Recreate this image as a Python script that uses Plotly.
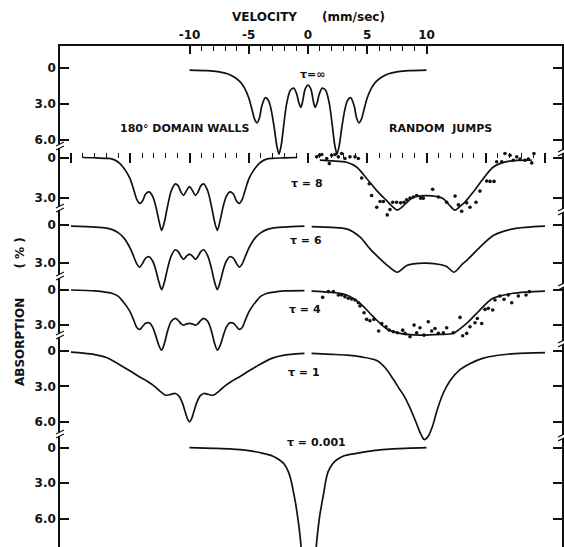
import plotly.graph_objects as go

# ------------------------------------------------------------------ data
# top velocity axis (mm/sec)
vel_major = [-10, -5, 0, 5, 10]
vel_major_text = ["-10", "-5", "0", "5", "10"]
vel_minor = list(range(-10, 11))
# tick row drawn across the tau = 8 baseline
row_major = [-20, -15, -10, -5, 0, 5, 10, 15, 20]
row_minor = list(range(-20, 21))

# tau = infinity (centred at 0 mm/sec)
inf_v = [-10, -8.5, -7.5, -6.8, -6.2, -5.7, -5.3, -5.0, -4.75, -4.5, -4.3, -4.1, -3.9, -3.6, -3.3,
         -3.05, -2.85, -2.65, -2.45, -2.25, -2.05, -1.8, -1.5, -1.2, -0.95, -0.75, -0.6, -0.45,
         -0.25, 0, 0.25, 0.45, 0.6, 0.75, 0.95, 1.2, 1.5, 1.8, 2.05, 2.25, 2.45, 2.65, 2.85, 3.05,
         3.3, 3.6, 3.9, 4.1, 4.3, 4.5, 4.75, 5.0, 5.3, 5.7, 6.2, 6.8, 7.5, 8.5, 10]
inf_a = [0.2, 0.25, 0.35, 0.5, 0.8, 1.2, 1.8, 2.5, 3.4, 4.3, 4.6, 4.2, 3.2, 2.5, 2.8,
         3.8, 5.0, 6.4, 7.2, 6.4, 4.8, 3.0, 1.9, 1.7, 2.2, 3.0, 3.3, 2.8,
         1.8, 1.45, 1.8, 2.8, 3.3, 3.0, 2.2, 1.7, 1.9, 3.0, 4.8, 6.4, 7.2, 6.4, 5.0, 3.8,
         2.8, 2.5, 3.2, 4.2, 4.6, 4.3, 3.4, 2.5, 1.8, 1.2, 0.8, 0.5, 0.35, 0.25, 0.2]

# 180 deg domain walls (velocity relative to the spectrum centre)
dw_u = [-10, -8, -7, -6.5, -6, -5.6, -5.3, -5.0, -4.7, -4.45, -4.2, -3.95, -3.7, -3.4, -3.1,
        -2.85, -2.6, -2.35, -2.1, -1.85, -1.55, -1.2, -0.95, -0.7, -0.5, -0.25, 0,
        0.25, 0.5, 0.7, 0.95, 1.2, 1.55, 1.85, 2.1, 2.35, 2.6, 2.85, 3.1, 3.4, 3.7, 3.95,
        4.2, 4.45, 4.7, 5.0, 5.3, 5.6, 6, 6.5, 7, 8, 9.7]
dw8_u = [-9.0, -8, -7, -6.5, -6, -5.6, -5.3, -5.0, -4.7, -4.45, -4.2, -3.95, -3.7, -3.4, -3.1,
         -2.85, -2.6, -2.35, -2.1, -1.85, -1.55, -1.2, -0.95, -0.7, -0.5, -0.25, 0,
         0.25, 0.5, 0.7, 0.95, 1.2, 1.55, 1.85, 2.1, 2.35, 2.6, 2.85, 3.1, 3.4, 3.7, 3.95,
         4.2, 4.45, 4.7, 5.0, 5.3, 5.6, 6, 6.5, 7, 8, 9.1]
dw8_a = [0.0, 0.02, 0.06, 0.12, 0.35, 0.72, 1.1, 1.6, 2.4, 3.1, 3.4, 3.2, 2.7, 2.55, 2.9,
         3.6, 4.6, 5.4, 4.7, 3.6, 2.5, 1.95, 2.1, 2.6, 2.8, 2.45, 2.15,
         2.45, 2.8, 2.6, 2.1, 1.95, 2.5, 3.6, 4.7, 5.4, 4.6, 3.6, 2.9, 2.55, 2.7, 3.2,
         3.4, 3.1, 2.4, 1.6, 1.1, 0.72, 0.35, 0.12, 0.06, 0.03, 0.0]
dw6_a = [0.12, 0.2, 0.28, 0.4, 0.65, 0.98, 1.35, 1.85, 2.5, 3.05, 3.3, 3.0, 2.6, 2.5, 2.85,
         3.5, 4.4, 5.05, 4.4, 3.4, 2.45, 1.96, 2.1, 2.5, 2.7, 2.45, 2.3,
         2.45, 2.7, 2.5, 2.1, 1.96, 2.45, 3.4, 4.4, 5.05, 4.4, 3.5, 2.85, 2.5, 2.6, 3.0,
         3.3, 3.05, 2.5, 1.85, 1.35, 0.98, 0.65, 0.4, 0.28, 0.2, 0.12]
dw4_a = [0.0, 0.08, 0.2, 0.3, 0.55, 1.0, 1.4, 1.9, 2.6, 3.2, 3.37, 3.1, 2.85, 2.8, 3.2,
         3.9, 4.7, 5.14, 4.5, 3.5, 2.7, 2.43, 2.6, 2.9, 3.0, 2.9, 2.85,
         2.9, 3.0, 2.9, 2.6, 2.43, 2.7, 3.5, 4.5, 5.14, 4.7, 3.9, 3.2, 2.8, 2.85, 3.1,
         3.37, 3.2, 2.6, 1.9, 1.4, 1.0, 0.55, 0.3, 0.2, 0.08, 0.05]
dw1_u = [-10, -9, -8, -7, -6, -5, -4.2, -3.5, -3.0, -2.5, -2.1, -1.85, -1.5, -1.2, -0.9, -0.6,
         -0.35, -0.15, 0, 0.15, 0.35, 0.6, 0.9, 1.2, 1.5, 1.85, 2.1, 2.5, 3.0, 3.5, 4.2, 5, 6,
         7, 8, 9, 9.7]
dw1_a = [0.1, 0.18, 0.3, 0.55, 1.1, 1.7, 2.2, 2.6, 2.95, 3.4, 3.7, 3.75, 3.65, 3.6, 3.8, 4.4,
         5.2, 5.8, 6.0, 5.8, 5.2, 4.4, 3.8, 3.6, 3.65, 3.75, 3.7, 3.4, 2.95, 2.6, 2.2, 1.7, 1.1,
         0.6, 0.35, 0.25, 0.2]

# random jumps (velocity relative to the spectrum centre)
rj8_u = [-9.0, -8.0, -6.74, -5.9, -5.05, -4.2, -3.36, -2.85, -2.46, -2.1, -1.81, -1.1, 0,
         1.42, 1.9, 2.4, 2.85, 3.25, 3.95, 4.8, 5.64, 6.77, 8.88]
rj8_a = [0.2, 0.25, 0.35, 0.7, 1.55, 2.45, 3.2, 3.65, 3.9, 3.7, 3.45, 2.95, 2.83,
         3.05, 3.5, 3.9, 3.6, 3.3, 2.55, 1.55, 0.7, 0.3, 0.2]
rj6_u = [-9.69, -8.0, -6.74, -5.6, -4.77, -3.92, -3.2, -2.46, -1.67, -1.1, 0, 1.14,
         1.7, 2.32, 3.0, 3.39, 4.51, 5.64, 7.33, 10]
rj6_a = [0.16, 0.22, 0.34, 0.98, 1.89, 2.66, 3.25, 3.7, 3.18, 3.05, 3.0, 3.1,
         3.25, 3.7, 3.1, 2.79, 1.76, 0.85, 0.34, 0.13]
rj4_u = [-9.7, -8.0, -6.74, -5.6, -4.5, -3.4, -2.24, -0.55, 1.13, 2.25, 3.38, 4.5, 5.6,
         7.3, 10]
rj4_a = [0.09, 0.2, 0.43, 1.14, 2.28, 3.29, 3.71, 3.86, 3.8, 3.7, 2.86, 1.71, 0.71,
         0.28, 0.09]
rj1_u = [-9.7, -8, -6.7, -5.5, -4.2, -3.5, -2.8, -2.3, -1.9, -1.4, -0.9, -0.5, -0.2, 0.1,
         0.5, 0.9, 1.4, 2.0, 2.8, 3.7, 4.8, 5.9, 7.5, 10]
rj1_a = [0.2, 0.28, 0.35, 0.5, 0.8, 1.4, 2.4, 3.2, 3.8, 4.8, 6.0, 7.0, 7.5, 7.3,
         6.4, 5.0, 3.6, 2.5, 1.6, 1.05, 0.6, 0.38, 0.22, 0.14]

# measured points, tau = 8 and tau = 4 (random jumps)
pts8_u = [-9.27, -9.04, -8.84, -8.42, -8.2, -8.0, -7.72, -7.44, -7.16, -6.88, -6.46, -6.03,
          -5.75, -5.47, -4.83, -4.63, -4.2, -3.92, -3.64, -3.31, -3.08, -2.85, -2.52, -2.18,
          -1.9, -1.67, -1.39, -1.11, -0.83, -0.49, -0.27, 0.52, 1.0, 1.7, 2.41, 2.69, 2.97,
          3.39, 3.67, 4.18, 4.51, 5.08, 5.36, 5.7, 5.92, 6.35, 6.62, 7.05, 7.33, 7.61, 7.89,
          8.31, 8.59, 8.88, 9.07]
pts8_a = [-0.05, -0.17, -0.22, 0.07, 0.45, -0.17, -0.22, -0.05, -0.3, 0.07, -0.05, -0.05,
          0.07, 1.52, 1.94, 2.81, 3.68, 3.26, 3.26, 4.25, 3.86, 3.31, 3.31, 3.36,
          3.31, 3.13, 3.01, 2.93, 2.81, 3.01, 3.01, 2.36, 2.93, 3.31, 2.86, 3.51, 3.98,
          3.36, 3.68, 3.31, 2.49, 1.74, 1.77, 1.77, 0.32, 0.32, -0.3, -0.17, 0.2, -0.05, 0.12,
          0.2, 0.12, 0.4, -0.3]
pts4_u = [-8.76, -8.28, -7.86, -7.44, -7.16, -6.88, -6.6, -6.32, -6.03, -5.75, -5.61, -5.27,
          -5.05, -4.77, -4.43, -4.04, -3.78, -3.42, -3.14, -2.8, -2.46, -2.01, -1.81, -1.39,
          -1.05, -0.83, -0.55, -0.21, 0.15, 0.44, 0.72, 1.0, 1.42, 1.7, 2.26, 2.83, 3.05,
          3.39, 3.67, 4.09, 4.29, 4.66, 4.94, 5.22, 5.59, 5.78, 6.2, 6.54, 6.9, 7.19, 7.75,
          8.4, 8.68]
pts4_a = [0.63, 0.14, 0.14, 0.43, 0.43, 0.57, 0.71, 0.77, 0.86, 1.09, 1.37, 1.94,
          2.51, 2.63, 2.51, 3.51, 2.86, 3.14, 3.43, 3.57, 3.66, 3.43, 3.71, 4.0,
          3.0, 3.66, 3.23, 3.86, 2.71, 3.51, 3.29, 3.71, 3.66, 3.23, 3.66, 2.34, 3.91,
          3.71, 3.14, 2.8, 2.43, 2.86, 1.66, 1.57, 1.71, 0.86, 0.51, 0.8, 0.43, 1.09, 0.51,
          0.43, 0.14]

# tau = 0.001 (centred at 0 mm/sec); the line leaves the frame at the bottom
t0_v = [-10, -8, -6.6, -5, -3.8, -3.0, -2.4, -2.0, -1.66, -1.45, -1.24, -1.05, -0.9, -0.75,
        -0.62, -0.5, None, 0.6, 0.73, 0.86, 1.0, 1.17, 1.35, 1.52, 1.7, 2.05, 2.4, 3.0, 4.1,
        5.5, 7.2, 10]
t0_a = [0.0, 0.05, 0.1, 0.25, 0.48, 0.7, 1.04, 1.4, 2.03, 2.7, 3.7, 4.7, 5.7, 6.8,
        8.0, 9.6, None, 9.6, 8.0, 6.8, 5.7, 4.7, 3.7, 2.7, 2.03, 1.4, 1.04, 0.7, 0.48,
        0.25, 0.1, 0.0]

# ------------------------------------------------------------------ geometry
W, H = 564, 547
L, R, T, B = 60, 562, 46, 547          # plot-area edges in pixels
V0_PX, PX_PER_V = 308, 11.85           # velocity 0 position and scale
LEFT_C, RIGHT_C = -10, 10              # centres of the two spectra in each row


def fx(px):
    return (px - L) / (R - L)


def fy(py):
    return (B - py) / (B - T)


x_range = [(L - V0_PX) / PX_PER_V, (R - V0_PX) / PX_PER_V]

# (axis, zero px, px per %, top px, bottom px, ticks)
rows = [
    ("y", 67.7, 12.0, 46, 162, [0, 3, 6]),
    ("y2", 157.5, 13.5, 140, 236, [0, 3]),
    ("y3", 224.5, 12.9, 212, 292, [0, 3]),
    ("y4", 290.0, 11.7, 280, 356, [0, 3]),
    ("y5", 351.0, 11.8, 340, 446, [0, 3, 6]),
    ("y6", 447.7, 11.8, 437, 547, [0, 3, 6]),
]
tick_text = {0: "0", 3: "3.0", 6: "6.0"}

INK = "#111111"
FONT = "DejaVu Sans"
LW = 1.7

fig = go.Figure()


def line(xs, ys, yax, shift=0.0):
    xx = [None if v is None else v + shift for v in xs]
    fig.add_trace(go.Scatter(x=xx, y=ys, xaxis="x", yaxis=yax, mode="lines",
                             line=dict(color=INK, width=LW, shape="spline", smoothing=0.8),
                             connectgaps=False, showlegend=False, hoverinfo="skip"))


def dots(xs, ys, yax, shift=0.0):
    fig.add_trace(go.Scatter(x=[v + shift for v in xs], y=ys, xaxis="x", yaxis=yax,
                             mode="markers", marker=dict(color=INK, size=3.6),
                             showlegend=False, hoverinfo="skip"))


line(inf_v, inf_a, "y")
line(dw8_u, dw8_a, "y2", LEFT_C)
line(rj8_u, rj8_a, "y2", RIGHT_C)
dots(pts8_u, pts8_a, "y2", RIGHT_C)
line(dw_u, dw6_a, "y3", LEFT_C)
line(rj6_u, rj6_a, "y3", RIGHT_C)
line(dw_u, dw4_a, "y4", LEFT_C)
line(rj4_u, rj4_a, "y4", RIGHT_C)
dots(pts4_u, pts4_a, "y4", RIGHT_C)
line(dw1_u, dw1_a, "y5", LEFT_C)
line(rj1_u, rj1_a, "y5", RIGHT_C)
line(t0_v, t0_a, "y6")
# activates the tick-row axis
fig.add_trace(go.Scatter(x=[None], y=[None], xaxis="x2", yaxis="y2", mode="lines",
                         showlegend=False, hoverinfo="skip"))

TXT = dict(family=FONT, color=INK, size=12, weight="bold")

layout = dict(
    width=W, height=H,
    margin=dict(l=L, r=W - R, t=T, b=H - B, autoexpand=False),
    paper_bgcolor="white", plot_bgcolor="rgba(0,0,0,0)",
    font=dict(family=FONT, color=INK, size=12),
    showlegend=False,
    xaxis=dict(range=x_range, side="top", anchor="y", showline=True, linecolor=INK,
               linewidth=1.5, ticks="inside", tickvals=vel_major, ticktext=vel_major_text,
               ticklen=8, tickwidth=1.5, tickcolor=INK, showgrid=False, zeroline=False,
               tickfont=TXT, automargin=False,
               minor=dict(tickvals=vel_minor, ticks="inside", ticklen=5, tickwidth=1.2,
                          tickcolor=INK, showgrid=False)),
    xaxis2=dict(range=x_range, overlaying="x", anchor="free", position=fy(152), side="bottom",
                showline=False, ticks="outside", tickvals=row_major, ticklen=10, tickwidth=1.5,
                tickcolor=INK, showticklabels=False, showgrid=False, zeroline=False,
                minor=dict(tickvals=row_minor, ticks="outside", ticklen=5, tickwidth=1.2,
                           tickcolor=INK, showgrid=False)),
)
for name, z, k, top, bot, tv in rows:
    key = "yaxis" if name == "y" else "yaxis" + name[1:]
    layout[key] = dict(domain=[fy(bot), fy(top)], range=[(bot - z) / k, (top - z) / k],
                       anchor="x", showline=True, linecolor=INK, linewidth=1.5,
                       mirror="ticks", ticks="inside", ticklen=9, tickwidth=1.5,
                       tickcolor=INK, tickvals=tv, ticktext=[tick_text[t] for t in tv],
                       showgrid=False, zeroline=False, automargin=False,
                       tickfont=TXT)
fig.update_layout(**layout)

# axis breaks
shapes = []
for side_px, breaks in ((L, [146, 208, 276, 335, 434]), (R, [152, 211, 286, 343, 437])):
    for py in breaks:
        shapes.append(dict(type="rect", xref="paper", yref="paper", layer="above",
                           x0=fx(side_px - 2), x1=fx(side_px + 2), y0=fy(py + 2), y1=fy(py - 2),
                           fillcolor="white", line=dict(width=0)))
        for d in (-2, 2):
            shapes.append(dict(type="line", xref="paper", yref="paper", layer="above",
                               x0=fx(side_px - 4), x1=fx(side_px + 4),
                               y0=fy(py + d + 2), y1=fy(py + d - 2),
                               line=dict(color=INK, width=1.2)))
fig.update_layout(shapes=shapes)

NB = "\u00a0"
ann = [
    ("VELOCITY" + NB * 6 + "(mm/sec)", 308, 17, 12, 0),
    ("ABSORPTION" + NB * 7 + "(" + NB + "%" + NB + ")", 20, 312, 12, -90),
    ("\u03c4=\u221e", 312, 74, 11, 0),
    ("180\u00b0 DOMAIN WALLS", 185, 128, 11, 0),
    ("RANDOM" + NB * 2 + "JUMPS", 440, 128, 11, 0),
    ("\u03c4 = 8", 307, 183, 11, 0),
    ("\u03c4 = 6", 306, 240, 11, 0),
    ("\u03c4 = 4", 305, 310, 11, 0),
    ("\u03c4 = 1", 304, 372, 11, 0),
    ("\u03c4 = 0.001", 316, 442, 11, 0),
]
for text, px, py, size, ang in ann:
    fig.add_annotation(text=text, x=fx(px), y=fy(py), xref="paper", yref="paper",
                       showarrow=False, textangle=ang, xanchor="center", yanchor="middle",
                       font=dict(family=FONT, size=size, color=INK, weight="bold"))

# the page body has a default 8px margin; remove it so the figure sits at the window origin
fig.write_html("out.html", config={"displayModeBar": False},
               post_script="document.body.style.margin='0';document.body.style.overflow='hidden';")
